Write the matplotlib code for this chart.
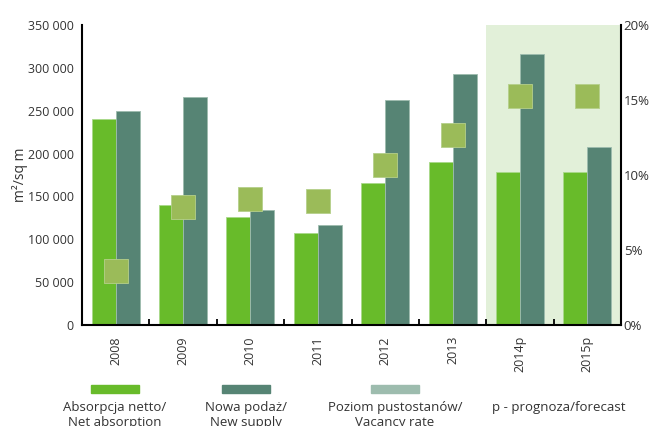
import numpy as np
import matplotlib.pyplot as plt
from matplotlib.ticker import FuncFormatter

plt.rcParams['font.family'] = ['Open Sans', 'DejaVu Sans']

years = ["2008", "2009", "2010", "2011", "2012", "2013", "2014p", "2015p"]
absorption = [240000, 140000, 126000, 107000, 166000, 190000, 178000, 178000]
new_supply = [250000, 266000, 134000, 117000, 262000, 293000, 316000, 208000]
vacancy = [3.6, 7.9, 8.4, 8.3, 10.7, 12.7, 15.3, 15.3]

c_abs = '#68bb2a'
c_sup = '#568474'
c_vac = '#9bbb59'
c_vac_leg = '#9dbcae'
c_shade = '#e2f0d9'
c_text = '#333333'

fig = plt.figure(figsize=(6.49, 4.26), dpi=100)
ax = fig.add_axes([82/649, 1-325/426, (621-82)/649, 300/426])
x = np.arange(len(years))
w = 0.356

ax.axvspan(5.5, 7.5, color=c_shade, zorder=0, lw=0)
ax.bar(x - w/2, absorption, w, color=c_abs, edgecolor='#a9d98a', linewidth=0.6, zorder=2)
ax.bar(x + w/2, new_supply, w, color=c_sup, edgecolor='#9dbcae', linewidth=0.6, zorder=2)

ax.set_xlim(-0.5, 7.5)
ax.set_ylim(0, 350000)
ax.set_yticks(np.arange(0, 350001, 50000))
ax.yaxis.set_major_formatter(FuncFormatter(lambda v, p: f"{int(v):,}".replace(",", " ")))
ax.set_xticks(x)
ax.set_xticklabels(years, rotation=90)
ax.set_xticks(np.arange(-0.5, 8, 1), minor=True)
ax.tick_params(axis='x', which='major', length=0, pad=8, labelsize=9, labelcolor=c_text)
ax.tick_params(axis='x', which='minor', direction='in', length=4, width=1.3)
ax.tick_params(axis='y', length=0, labelsize=9, labelcolor=c_text, pad=6)
ax.set_ylabel('m²/sq m', fontsize=10, color=c_text, labelpad=0)
for s in ['top', 'right']:
    ax.spines[s].set_visible(False)
ax.spines['left'].set_linewidth(1.5)
ax.spines['bottom'].set_linewidth(1.5)

ax2 = ax.twinx()
ax2.scatter(x, vacancy, marker='s', s=300, color=c_vac, edgecolor='#b5d08a', linewidth=0.6, zorder=3)
ax2.set_ylim(0, 20)
ax2.set_yticks([0, 5, 10, 15, 20])
ax2.yaxis.set_major_formatter(FuncFormatter(lambda v, p: f"{int(v)}%"))
ax2.tick_params(axis='y', length=0, labelsize=9.5, labelcolor=c_text, pad=2)
for s in ['top', 'left', 'bottom']:
    ax2.spines[s].set_visible(False)
ax2.spines['right'].set_linewidth(1.5)

# legend drawn by hand under the axes
leg_items = [(c_abs, "Absorpcja netto/\nNet absorption", 115),
             (c_sup, "Nowa podaż/\nNew supply", 246),
             (c_vac_leg, "Poziom pustostanów/\nVacancy rate", 395)]
for col, label, cx in leg_items:
    fig.patches.append(plt.Rectangle(((cx-24)/649, 1-393/426), 48/649, 8/426,
                                     transform=fig.transFigure, color=col))
    fig.text(cx/649, 1-401/426, label, ha='center', va='top', fontsize=9.5,
             color=c_text, linespacing=1.2)
fig.text(559/649, 1-401/426, "p - prognoza/forecast", ha='center', va='top',
         fontsize=9.5, color=c_text)

fig.savefig('out.png', dpi=100)
